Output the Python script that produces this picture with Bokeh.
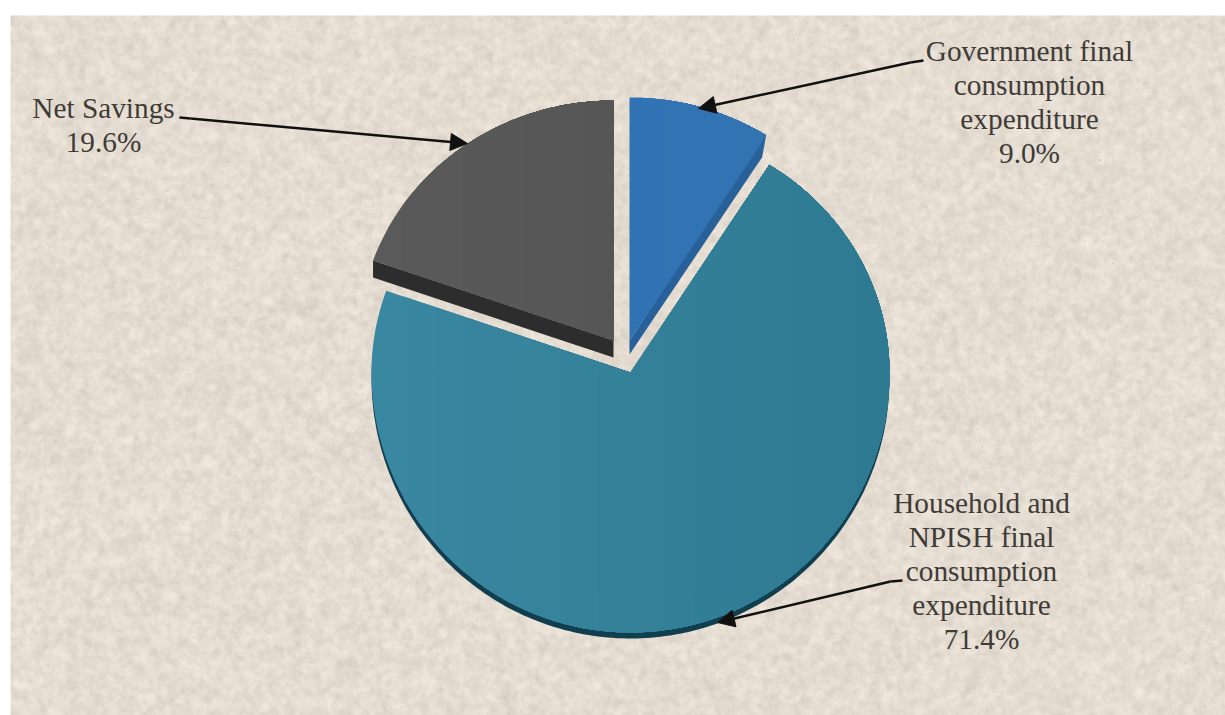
import numpy as np
from bokeh.embed import file_html
from bokeh.models import Arrow, NormalHead, Range1d
from bokeh.plotting import figure
from bokeh.resources import INLINE
from bokeh.core.properties import value

# Shares of gross income, clockwise from twelve o'clock
categories = ["Government final consumption expenditure",
              "Household and NPISH final consumption expenditure",
              "Net Savings"]
shares = [9.0, 71.4, 19.6]
label_lines = [["Government final", "consumption", "expenditure"],
               ["Household and", "NPISH final", "consumption", "expenditure"],
               ["Net Savings"]]

W, H = 1225, 715
INK = "#3f3c38"

p = figure(width=W, height=H, output_backend="svg", toolbar_location=None,
           x_range=Range1d(0, W), y_range=Range1d(H, 0), min_border=0,
           outline_line_color=None, background_fill_color="white",
           border_fill_color="white")
p.axis.visible = False
p.grid.visible = False


def paper_texture(w, h):
    """Mottled paper: fine blurred grain over a warm base, with sparse dark flecks."""
    rng = np.random.RandomState(7)
    spectrum = np.fft.rfft2(rng.normal(size=(h, w)))
    fy = np.fft.fftfreq(h)[:, None]
    fx = np.fft.rfftfreq(w)[None, :]
    radius2 = fx**2 + fy**2

    def blurred(k):
        field = np.fft.irfft2(spectrum * np.exp(-radius2 * k), s=(h, w))
        return field / field.std()

    fine = blurred(25)
    mid = blurred(160)
    flecks = np.clip(fine - 2.7, 0, None)
    shade = 2.2 * fine + 2.4 * mid - 26 * flecks
    base = np.array([229, 221, 209], dtype=float)
    img = np.zeros((h, w), dtype=np.uint32)
    view = img.view(np.uint8).reshape(h, w, 4)
    for c in range(3):
        view[..., c] = np.clip(base[c] + shade, 0, 255)
    view[..., 3] = 255
    return img


left, top = 10, 15
texture = paper_texture(W - left, H - top)
p.image_rgba(image=[texture], x=left, y=top, dw=W - left, dh=H - top)


def sector(cx, cy, a, b_up, b_down, start_pct, end_pct):
    """Tilted pie sector as a polygon; angles run clockwise from the top."""
    t = np.linspace(start_pct, end_pct, 240) * 2 * np.pi / 100
    c = np.cos(t)
    xs = cx + a * np.sin(t)
    ys = cy - np.where(c > 0, b_up, b_down) * c
    return np.r_[cx, xs], np.r_[cy, ys]


def clip_right_of(xs, ys, limit):
    """Sutherland-Hodgman clip of a polygon to x >= limit."""
    ox, oy = [], []
    n = len(xs)
    for i in range(n):
        x0, y0, x1, y1 = xs[i], ys[i], xs[(i + 1) % n], ys[(i + 1) % n]
        if x0 >= limit:
            ox.append(x0)
            oy.append(y0)
        if (x0 >= limit) != (x1 >= limit):
            k = (limit - x0) / (x1 - x0)
            ox.append(limit)
            oy.append(y0 + k * (y1 - y0))
    return ox, oy


def shaded_patch(xs, ys, rgb_from, rgb_to, bands=16):
    """Horizontal colour ramp made of overlapping clipped copies of a polygon."""
    lo, hi = min(xs), max(xs)
    for i in range(bands):
        f = i / (bands - 1)
        rgb = [round(u + (v - u) * f) for u, v in zip(rgb_from, rgb_to)]
        colour = "#%02x%02x%02x" % tuple(rgb)
        cx, cy = clip_right_of(xs, ys, lo + (hi - lo) * i / bands)
        if len(cx) > 2:
            p.patch(cx, cy, fill_color=colour, line_color=None)


cum = np.cumsum([0] + shares)

# Household slice: dark rim first, then the face
hx, hy = sector(630, 372, 259, 246, 260, cum[1], cum[2])
p.patch(hx, hy + 6, fill_color="#123f50", line_color=None)
shaded_patch(hx, hy, (58, 135, 161), (46, 122, 146))

# Government slice: pulled out, with a side wall below the face
gx, gy = sector(629, 340, 255, 243, 243, cum[0], cum[1])
p.patch(np.r_[gx[0], gx[-1], gx[-1] - 4, gx[0]],
        np.r_[gy[0], gy[-1], gy[-1] + 22, gy[0] + 14],
        fill_color="#28619a", line_color=None)
shaded_patch(gx, gy, (49, 114, 180), (50, 116, 178))

# Net savings slice: pulled out the other way
nx, ny = sector(613, 340, 255, 240, 240, cum[2], cum[3])
p.patch(np.r_[nx[0], nx[0], nx[1], nx[1]],
        np.r_[ny[0], ny[0] + 17, ny[1] + 17, ny[1]],
        fill_color="#2d2d2d", line_color=None)
shaded_patch(nx, ny, (90, 90, 90), (86, 86, 86))

# Leader arrows, one per label
leaders = [(923, 60, 910, 62, 698, 108),
           (902, 580, 890, 581, 717, 622),
           (179, 117, 190, 118, 467, 143)]
for x0, y0, x1, y1, x2, y2 in leaders:
    p.line([x0, x1], [y0, y1], line_color="#111111", line_width=2.5)
    p.add_layout(Arrow(x_start=x1, y_start=y1, x_end=x2, y_end=y2,
                       line_color="#111111", line_width=2.5,
                       end=NormalHead(size=17, fill_color="#111111",
                                      line_color="#111111", line_width=1)))

# Multi-line labels with the share on the last line
anchors = [(1029, 50), (981, 502), (103, 107)]
for lines, share, (ax, ay) in zip(label_lines, shares, anchors):
    rows = lines + [f"{share:.1f}%"]
    ys = [ay + i * 34.2 for i in range(len(rows))]
    p.text([ax] * len(rows), ys, text=rows, text_align="center",
           text_baseline="middle", text_font=value("Liberation Serif"),
           text_font_size="29.3px", text_color=INK)

open("out.html", "w").write(file_html(p, INLINE))
